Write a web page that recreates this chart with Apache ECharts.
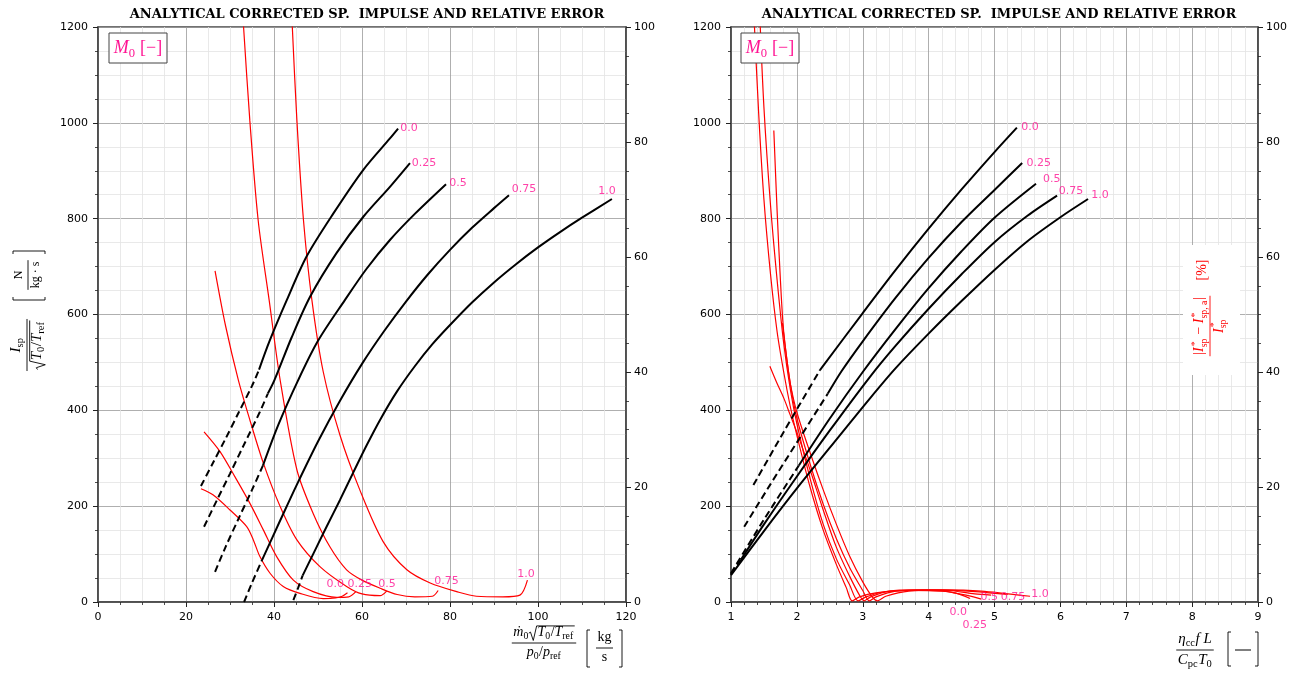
<!DOCTYPE html>
<html>
<head>
<meta charset="utf-8">
<script src="https://cdn.jsdelivr.net/npm/echarts@6/dist/echarts.min.js"></script>
<style>
html,body{margin:0;padding:0;background:#fff;}
#chart{width:1302px;height:679px;}
</style>
</head>
<body>
<div id="chart"></div>
<script>
// Inlet Mach number levels, one curve per level
const machLevels = ['0.0', '0.25', '0.5', '0.75', '1.0'];

// ---- Left panel: Isp vs corrected mass flow ----
const flowIspDashed = [
  [[23.4,242],[26,288],[29,341],[32,396],[35,451],[36.6,485]],
  [[24.1,157],[27,212],[30,268],[33,325],[36.8,397],[38.6,435]],
  [[26.6,63],[29,115],[32,175],[35,234],[37.5,285]],
  [[33.2,0],[35,40],[37.3,88]],
  [[44.4,4],[45.5,30],[46.5,55]]
];
const flowIspSolid = [
  [[36.6,485],[39,545],[42.9,630],[47.4,721],[53.5,811],[60.3,902],[66.4,968],[68.2,988]],
  [[38.6,435],[40.1,463],[44,552],[48.2,637],[54.2,728],[60.3,804],[66.4,867],[70.9,916]],
  [[37.5,285],[41,370],[45.5,463],[50,545],[56.1,630],[61,695],[66.4,756],[72,810],[79.1,872]],
  [[37.3,88],[41.4,170],[45.2,245],[50,335],[55,420],[60,497],[65,565],[70,627],[75,684],[80,735],[85,781],[90,822],[93.4,849]],
  [[46.5,55],[48.9,100],[52,158],[55,213],[58,270],[61,326],[64.1,380],[68,440],[72,492],[76,538],[80,578],[85,625],[90,667],[95,705],[100,740],[105,772],[110,802],[116.8,841]]
];
const flowError = [
  [[23.4,19.7],[26.2,18.6],[30,16],[33.8,13.1],[35.3,10.8],[36.8,7.9],[39.1,5],[42.1,2.7],[45.9,1.5],[51.2,0.6],[54,0.7],[55.5,1.0],[56.7,1.6]],
  [[24.1,29.6],[27.7,26.2],[31.1,21.8],[34.5,17.2],[37.6,12.5],[40.6,7.9],[44.4,3.8],[48.9,1.8],[54.2,0.8],[57,0.9],[58.6,1.8]],
  [[26.6,57.6],[29,48],[31.9,38.6],[34.5,31.7],[37.6,24.1],[41.4,16.6],[45.2,10.8],[50.5,6.1],[56.5,2.7],[60,1.4],[64.1,1.1],[65.6,1.9]],
  [[33,101],[34.5,83.8],[36.4,66.4],[38.9,52.5],[41.4,38.6],[45.2,23],[48.9,15.4],[52.7,9.6],[56.5,5.6],[60,3.8],[64.1,2.4],[68,1.3],[72,0.9],[76,1.0],[77.3,2.0]],
  [[44.1,101],[45.2,83.8],[46.7,66.4],[48.6,52.6],[51.2,40],[55,29],[59.5,19.5],[64.8,10.5],[70.2,5.6],[75.5,3.3],[81.5,1.8],[86,1.0],[92,0.9],[95.9,1.2],[97.6,3.8]]
];
const flowIspLabels = [[70.7,989],[74.1,916],[81.8,874],[96.8,862],[115.7,858]];
const flowErrorLabels = [[53.9,3.1],[59.5,3.1],[65.7,3.1],[79.2,3.65],[97.3,4.9]];

// ---- Right panel: Isp vs heat-addition parameter ----
const heatIspDashed = [
  [[1.34,244],[1.8,355],[2.35,484]],
  [[1.2,157],[1.6,246],[2,333],[2.47,435]],
  [[1.0,60],[1.5,172],[2.03,285]],
  [[1.0,58],[1.15,88]],
  []
];
const heatIspSolid = [
  [[2.35,484],[3,603],[3.5,693],[4,779],[4.5,861],[5,939],[5.34,990]],
  [[2.47,435],[2.68,482],[3,544],[3.5,635],[4,718],[4.5,793],[5,860],[5.42,916]],
  [[2.03,285],[2.5,383],[3,480],[3.5,570],[4,655],[4.5,732],[5,802],[5.63,873]],
  [[1.15,88],[1.5,162],[2,262],[2.5,358],[3.11,470],[3.5,535],[4,612],[4.5,684],[5,751],[5.5,806],[5.95,848]],
  [[1.0,56],[1.5,148],[2,237],[2.5,322],[3.11,425],[3.5,488],[4,560],[4.5,628],[5,693],[5.5,753],[6,803],[6.42,841]]
];
const heatError = [
  [[1.34,104],[1.42,85],[1.5,70],[1.6,57],[1.7,47],[1.8,40],[1.9,34],[2.0,29],[2.2,20],[2.4,12.5],[2.6,6.5],[2.75,2.5],[2.84,0.2],[2.95,0.9],[3.2,1.6],[3.6,2.0],[4.0,2.0],[4.4,1.6],[4.63,0.6]],
  [[1.43,104],[1.5,86],[1.6,69],[1.7,56],[1.8,45],[1.9,37],[2.0,31],[2.2,21.5],[2.4,13.5],[2.6,7.5],[2.8,3],[2.93,0.2],[3.05,0.9],[3.3,1.7],[3.7,2.0],[4.2,1.9],[4.6,1.1],[4.8,0.5]],
  [[1.59,41],[1.7,38],[1.8,35.5],[1.9,32.5],[2.0,29.5],[2.2,23],[2.4,16],[2.6,9.5],[2.8,4.5],[2.95,1.2],[3.02,0.2],[3.12,0.9],[3.4,1.9],[3.8,2.1],[4.3,2.0],[4.7,1.4],[4.95,1.2]],
  [[1.65,82],[1.7,68],[1.75,56],[1.8,47],[1.9,38],[2.0,32],[2.2,24],[2.4,17],[2.6,11],[2.8,6],[3.0,2],[3.1,0.2],[3.2,0.9],[3.5,1.9],[4,2.1],[4.6,1.9],[5.2,1.3]],
  [[1.78,48.5],[1.85,42],[1.9,38],[2.0,33],[2.2,26],[2.4,19.5],[2.6,13.5],[2.8,8],[3.0,3.5],[3.15,0.8],[3.22,0.2],[3.35,1.0],[3.7,1.9],[4.2,2.1],[4.8,1.9],[5.54,1.0]]
];
const heatIspLabels = [[5.54,991],[5.67,916],[5.87,883],[6.16,857],[6.60,849]];
const heatErrorLabels = [[4.45,-1.8],[4.70,-4.0],[4.92,0.8],[5.28,0.8],[5.69,1.4]];

const PANEL_TITLE = 'ANALYTICAL CORRECTED SP.  IMPULSE AND RELATIVE ERROR';
const PINK = '#ff1493';
const RED = '#ff0000';
const SERIF = 'Liberation Serif';

// ---------- small math-typesetting helpers for axis titles ----------
const measureCtx = document.createElement('canvas').getContext('2d');
function textWidth(str, size, italic) {
  measureCtx.font = (italic ? 'italic ' : '') + size + 'px "' + SERIF + '"';
  return measureCtx.measureText(str).width;
}
// tokens: ['i',txt] italic, ['r',txt] roman, ['s',txt] subscript, ['ss',[sup,sub]] stacked, ['sqrt',tokens]
function mathRow(tokens, size, color) {
  const els = [];
  let x = 0;
  const sub = size * 0.7;
  const put = (str, px, base, fs, it) => els.push({
    type: 'text', x: px, y: base - 0.34 * fs,
    style: { text: str, fontFamily: SERIF, fontSize: fs, fontStyle: it ? 'italic' : 'normal',
             fill: color, align: 'left', verticalAlign: 'middle' }
  });
  for (const [k, v] of tokens) {
    if (k === 'i' || k === 'r') {
      put(v, x, 0, size, k === 'i');
      x += textWidth(v, size, k === 'i');
    } else if (k === 's') {
      put(v, x, size * 0.22, sub, false);
      x += textWidth(v, sub, false) + 0.5;
    } else if (k === 'ss') {
      put(v[0], x + 1, -size * 0.4, sub, false);
      put(v[1], x, size * 0.24, sub, false);
      x += Math.max(textWidth(v[0], sub, false) + 1, textWidth(v[1], sub, false)) + 0.5;
    } else if (k === 'sqrt') {
      const inner = mathRow(v, size, color);
      const x0 = x, top = -size * 0.8, bot = size * 0.24;
      els.push({ type: 'polyline',
        shape: { points: [[x0, -size * 0.28], [x0 + size * 0.12, -size * 0.36], [x0 + size * 0.32, bot],
                          [x0 + size * 0.56, top], [x0 + size * 0.62 + inner.w + 1, top]] },
        style: { stroke: color, fill: null, lineWidth: 0.9 } });
      els.push({ type: 'group', x: x0 + size * 0.62, y: 0, children: inner.els });
      x = x0 + size * 0.62 + inner.w + 1;
    }
  }
  return { els, w: x };
}
function frac(num, den, size, color) {
  const n = mathRow(num, size, color), d = mathRow(den, size, color);
  const w = Math.max(n.w, d.w) + 3;
  return { w, els: [
    { type: 'group', x: -n.w / 2, y: -size * 0.42, children: n.els },
    { type: 'line', shape: { x1: -w / 2, y1: 0, x2: w / 2, y2: 0 }, style: { stroke: color, lineWidth: 0.9 } },
    { type: 'group', x: -d.w / 2, y: size * 0.98, children: d.els }
  ] };
}
function tallBrackets(xl, xr, y0, y1, color) {
  return [
    { type: 'polyline', shape: { points: [[xl + 3, y0], [xl, y0], [xl, y1], [xl + 3, y1]] }, style: { stroke: color, fill: null, lineWidth: 0.9 } },
    { type: 'polyline', shape: { points: [[xr - 3, y0], [xr, y0], [xr, y1], [xr - 3, y1]] }, style: { stroke: color, fill: null, lineWidth: 0.9 } }
  ];
}
// keep every overlay element above the plotted curves
function lift(el, z) {
  if (el.type === 'group') el.children.forEach(c => lift(c, z));
  else el.z = z;
  return el;
}

// y-axis title: Isp / sqrt(T0/Tref) [N/(kg s)]
function ispTitle(cx, cy) {
  const f = frac([['i', 'I'], ['s', 'sp']],
                 [['sqrt', [['i', 'T'], ['s', '0'], ['r', '/'], ['i', 'T'], ['s', 'ref']]]], 15, '#000');
  const unit = frac([['r', 'N']], [['r', 'kg · s']], 12, '#000');
  return { type: 'group', x: cx, y: cy, rotation: Math.PI / 2, children: [
    { type: 'group', x: -32, y: 0, children: f.els },
    { type: 'group', x: 38, y: 1, children: unit.els },
    ...tallBrackets(13, 62, -14, 18, '#000')
  ] };
}
// legend box "M0 [-]"
function machLegend(x, y) {
  const r = mathRow([['i', 'M'], ['s', '0'], ['r', ' [−]']], 18, PINK);
  return { type: 'group', x: x, y: y, children: [
    { type: 'rect', shape: { x: 0, y: 0, width: 58, height: 30 }, style: { fill: '#fff', stroke: '#444', lineWidth: 1 } },
    { type: 'group', x: (58 - r.w) / 2, y: 21, children: r.els }
  ] };
}

const flowTitle = frac(
  [['i', 'ṁ'], ['s', '0'], ['sqrt', [['i', 'T'], ['s', '0'], ['r', '/'], ['i', 'T'], ['s', 'ref']]]],
  [['i', 'p'], ['s', '0'], ['r', '/'], ['i', 'p'], ['s', 'ref']], 14, '#000');
const flowUnit = frac([['r', 'kg']], [['r', 's']], 14, '#000');
const heatTitle = frac(
  [['i', 'η'], ['s', 'cc'], ['i', 'f'], ['r', ' '], ['i', 'L']],
  [['i', 'C'], ['s', 'pc'], ['i', 'T'], ['s', '0']], 15, '#000');
const errTitle = frac(
  [['r', '|'], ['i', 'I'], ['ss', ['*', 'sp']], ['r', ' − '], ['i', 'I'], ['ss', ['*', 'sp, a']], ['r', '|']],
  [['i', 'I'], ['ss', ['*', 'sp']]], 14, RED);

const graphics = [
  lift(ispTitle(27, 313), 100),
  lift(machLegend(109, 33), 100),
  lift(machLegend(741, 33), 100),
  lift({ type: 'group', x: 544, y: 643, children: [
    ...flowTitle.els,
    { type: 'group', x: 60.5, y: 5, children: flowUnit.els },
    ...tallBrackets(43, 78, -13, 24, '#000')
  ] }, 100),
  lift({ type: 'group', x: 1195, y: 650, children: [
    ...heatTitle.els,
    ...tallBrackets(33, 63, -18, 16, '#000'),
    { type: 'line', shape: { x1: 40, y1: 0, x2: 56, y2: 0 }, style: { stroke: '#000', lineWidth: 1 } }
  ] }, 100),
  lift({ type: 'rect', shape: { x: 1183, y: 245, width: 57, height: 130 }, style: { fill: '#fff' } }, 99),
  lift({ type: 'group', x: 1210, y: 311, rotation: Math.PI / 2, children: [
    { type: 'group', x: -15, y: 0, children: errTitle.els },
    { type: 'text', x: 41, y: -8, style: { text: '[%]', fontFamily: SERIF, fontSize: 14, fill: RED, align: 'center', verticalAlign: 'middle' } }
  ] }, 100)
];

// ---------- axes ----------
const tickFont = { fontFamily: 'DejaVu Sans', fontSize: 11, color: '#000', formatter: v => String(v) };
function xAxisCfg(grid, min, max, interval, minorSplit) {
  return {
    type: 'value', gridIndex: grid, min, max, interval,
    axisLine: { show: true, onZero: false, lineStyle: { color: '#444', width: 1.5 } },
    axisTick: { show: true, length: 5, lineStyle: { color: '#222', width: 1 } },
    minorTick: { show: true, splitNumber: minorSplit, length: 3, lineStyle: { color: '#222', width: 0.8 } },
    splitLine: { show: true, lineStyle: { color: '#9a9a9a', width: 0.8 } },
    minorSplitLine: { show: true, lineStyle: { color: '#e3e3e3', width: 0.8 } },
    axisLabel: Object.assign({ margin: 10 }, tickFont)
  };
}
function yAxisCfg(grid, pos, min, max, interval, lines) {
  return {
    type: 'value', gridIndex: grid, position: pos, min, max, interval,
    axisLine: { show: true, onZero: false, lineStyle: { color: '#444', width: 1.5 } },
    axisTick: { show: true, length: 5, lineStyle: { color: '#222', width: 1 } },
    minorTick: { show: true, splitNumber: 4, length: 3, lineStyle: { color: '#222', width: 0.8 } },
    splitLine: { show: lines, lineStyle: { color: '#9a9a9a', width: 0.8 } },
    minorSplitLine: { show: lines, lineStyle: { color: '#e3e3e3', width: 0.8 } },
    axisLabel: Object.assign({ margin: pos === 'left' ? 10 : 8 }, tickFont)
  };
}

// ---------- series ----------
const series = [];
function addCurves(sets, xi, yi, color, width, dash, z) {
  sets.forEach((pts, k) => series.push({
    type: 'line', name: machLevels[k], xAxisIndex: xi, yAxisIndex: yi, data: pts,
    symbol: 'none', smooth: 0.3, animation: false, z,
    lineStyle: { color, width, type: dash ? [7, 4] : 'solid' }
  }));
}
function addLabels(points, xi, yi) {
  series.push({
    type: 'scatter', xAxisIndex: xi, yAxisIndex: yi, symbolSize: 1, clip: false, animation: false, z: 10,
    itemStyle: { color: 'transparent' },
    data: points.map((p, k) => ({ value: p, name: machLevels[k] })),
    label: { show: true, position: 'inside', formatter: '{b}', color: PINK, fontFamily: 'DejaVu Sans', fontSize: 11 }
  });
}
addCurves(flowError, 0, 1, RED, 1.2, false, 2);
addCurves(flowIspDashed, 0, 0, '#000', 2, true, 3);
addCurves(flowIspSolid, 0, 0, '#000', 2, false, 3);
addLabels(flowIspLabels, 0, 0);
addLabels(flowErrorLabels, 0, 1);
addCurves(heatError, 1, 3, RED, 1.2, false, 2);
addCurves(heatIspDashed, 1, 2, '#000', 2, true, 3);
addCurves(heatIspSolid, 1, 2, '#000', 2, false, 3);
addLabels(heatIspLabels, 1, 2);
addLabels(heatErrorLabels, 1, 3);

const titleStyle = { fontFamily: 'DejaVu Serif', fontWeight: 'bold', fontSize: 13, color: '#000' };
const option = {
  animation: false,
  backgroundColor: '#fff',
  title: [
    { text: PANEL_TITLE, left: 362, top: 3, textAlign: 'center', textStyle: titleStyle },
    { text: PANEL_TITLE, left: 994, top: 3, textAlign: 'center', textStyle: titleStyle }
  ],
  grid: [
    { left: 98, top: 27, width: 528, height: 575, show: true, borderColor: '#444', borderWidth: 1.5, backgroundColor: 'transparent' },
    { left: 731, top: 27, width: 527, height: 575, show: true, borderColor: '#444', borderWidth: 1.5, backgroundColor: 'transparent' }
  ],
  xAxis: [xAxisCfg(0, 0, 120, 20, 4), xAxisCfg(1, 1, 9, 1, 5)],
  yAxis: [
    yAxisCfg(0, 'left', 0, 1200, 200, true),
    yAxisCfg(0, 'right', 0, 100, 20, false),
    yAxisCfg(1, 'left', 0, 1200, 200, true),
    yAxisCfg(1, 'right', 0, 100, 20, false)
  ],
  series,
  graphic: graphics
};
echarts.init(document.getElementById('chart'), null, { renderer: 'canvas' }).setOption(option);
</script>
</body>
</html>
